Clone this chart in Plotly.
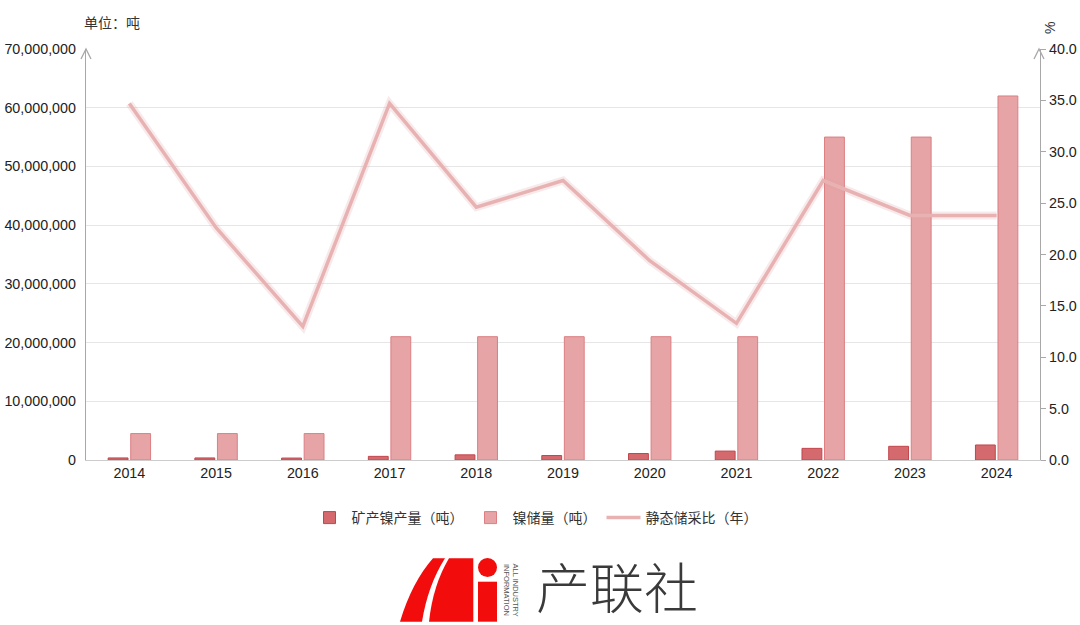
import plotly.graph_objects as go

# data
years = ['2014', '2015', '2016', '2017', '2018', '2019', '2020', '2021', '2022', '2023', '2024']
production = [350000, 350000, 330000, 620000, 880000, 760000, 1100000, 1520000, 1980000, 2330000, 2560000]
reserves = [4500000, 4500000, 4500000, 21000000, 21000000, 21000000, 21000000, 21000000, 55000000, 55000000, 62000000]
ratio = [34.7, 22.6, 13.0, 34.7, 24.6, 27.2, 19.4, 13.3, 27.2, 23.8, 23.8]

W, H = 1080, 625
L, R, T, B = 86, 1040, 49, 460  # plot area in pixels

def px(x):
   return (x - L) / (R - L)

def py(y):
   return (B - y) / (B - T)

cjk = "Noto Sans CJK SC, sans-serif"
num = "Liberation Sans, Arial, sans-serif"
red = '#f20c0c'

fig = go.Figure()

fig.add_trace(go.Bar(x=years, y=production, name='矿产镍产量（吨）',
                     marker=dict(color='#d56a6e', line=dict(color='#c2454b', width=1)),
                     yaxis='y'))
fig.add_trace(go.Bar(x=years, y=reserves, name='镍储量（吨）',
                     marker=dict(color='#e6a4a6', line=dict(color='#dc7e82', width=1)),
                     yaxis='y'))
# soft glow under the ratio line
fig.add_trace(go.Scatter(x=years, y=ratio, mode='lines', showlegend=False, hoverinfo='skip',
                         line=dict(color='rgba(225,160,162,0.22)', width=8), yaxis='y2'))
fig.add_trace(go.Scatter(x=years, y=ratio, name='静态储采比（年）', mode='lines',
                         line=dict(color='#e8b2b3', width=3.5), yaxis='y2'))

shapes = []
# axis arrow heads
for ax_x in (L, R - 1):
   shapes.append(dict(type='path', xref='paper', yref='paper',
                      path='M %f,%f L %f,%f L %f,%f' % (px(ax_x - 5), py(T + 10), px(ax_x), py(T), px(ax_x + 5), py(T + 10)),
                      line=dict(color='#a8a8a8', width=1.3)))

# logo mark
left_band = 'M %f,%f Q %f,%f %f,%f L %f,%f Q %f,%f %f,%f Z' % (
   px(400), py(621.7), px(412), py(582), px(433), py(558.3),
   px(445), py(558.3), px(428), py(585), px(422), py(621.7))
mid_band = 'M %f,%f Q %f,%f %f,%f L %f,%f L %f,%f Z' % (
   px(429), py(621.7), px(433), py(585), px(449), py(558.3),
   px(473.3), py(558.3), px(473.3), py(621.7))
shapes.append(dict(type='path', xref='paper', yref='paper', path=left_band,
                   fillcolor=red, line=dict(width=0)))
shapes.append(dict(type='path', xref='paper', yref='paper', path=mid_band,
                   fillcolor=red, line=dict(width=0)))
shapes.append(dict(type='circle', xref='paper', yref='paper',
                   x0=px(478), x1=px(497), y0=py(577), y1=py(558),
                   fillcolor=red, line=dict(width=0)))
shapes.append(dict(type='rect', xref='paper', yref='paper',
                   x0=px(478), x1=px(497), y0=py(621.7), y1=py(581.7),
                   fillcolor=red, line=dict(width=0)))

annotations = [
   dict(text='单位：吨', x=px(82), y=py(22), xref='paper', yref='paper',
        xanchor='left', yanchor='middle', showarrow=False,
        font=dict(family=cjk, size=14, color='#333333')),
   dict(text='%', x=px(1050), y=py(28), xref='paper', yref='paper',
        xanchor='center', yanchor='middle', showarrow=False, textangle=-90,
        font=dict(family=num, size=14, color='#333333')),
   dict(text='ALL INDUSTRY', x=px(515.5), y=py(590), xref='paper', yref='paper',
        xanchor='center', yanchor='middle', showarrow=False, textangle=90,
        font=dict(family=num, size=7.5, color='#555555')),
   dict(text='INFORMATION', x=px(507), y=py(590), xref='paper', yref='paper',
        xanchor='center', yanchor='middle', showarrow=False, textangle=90,
        font=dict(family=num, size=7.5, color='#555555')),
   dict(text='产联社', x=px(617), y=py(585), xref='paper', yref='paper',
        xanchor='center', yanchor='middle', showarrow=False,
        font=dict(family=cjk, size=54, color='#3a3a3a', weight=300)),
]

tickfont = dict(family=num, size=14.3, color='#222222')

fig.update_layout(
   width=W, height=H,
   margin=dict(l=L, r=W - R, t=T, b=H - B),
   plot_bgcolor='white', paper_bgcolor='white',
   barmode='group', bargap=0.48, bargroupgap=0.12,
   showlegend=True,
   legend=dict(orientation='h', x=px(535), y=py(518), xanchor='center', yanchor='middle',
               font=dict(family=cjk, size=14, color='#333333'), itemwidth=34),
   xaxis=dict(type='category', showline=True, linecolor='#cccccc', linewidth=1,
              ticks='', showgrid=False, automargin=False, tickfont=tickfont),
   yaxis=dict(range=[0, 70000000], dtick=10000000, tickformat=',', showgrid=True,
              gridcolor='#e6e6e6', showline=True, linecolor='#a8a8a8', linewidth=1.3,
              zeroline=False, ticks='', ticklabelstandoff=6, automargin=False,
              tickfont=tickfont),
   yaxis2=dict(range=[0, 40], dtick=5, tickformat='.1f', overlaying='y', side='right',
               showgrid=False, showline=True, linecolor='#a8a8a8', linewidth=1.3,
               zeroline=False, ticks='outside', ticklen=5, tickcolor='#a8a8a8',
               automargin=False, tickfont=tickfont),
   shapes=shapes,
   annotations=annotations,
)

# drop the default page margin so the figure sits in the window corner
fig.write_html("out.html", config={'displayModeBar': False},
               post_script="document.body.style.margin='0px';")
